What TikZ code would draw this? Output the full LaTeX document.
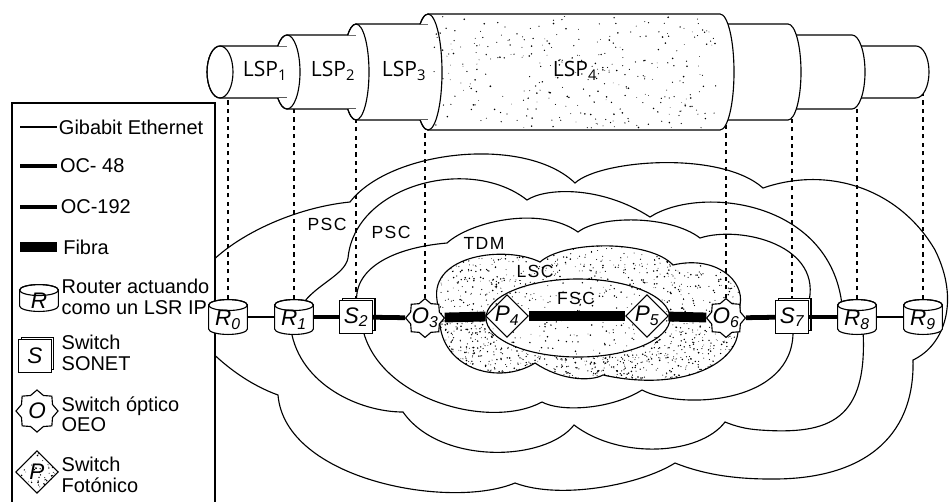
\documentclass[tikz,border=0pt]{standalone}
\usepackage{fontspec}
\setmainfont{Liberation Sans}
\newfontfamily\lspfont{Open Sans}
\newfontfamily\zonafont[LetterSpace=8]{Liberation Sans}
\usetikzlibrary{shapes.geometric}
\usetikzlibrary{shadows}
\usetikzlibrary{backgrounds}
\usetikzlibrary{positioning}

\newcommand{\etq}[2]{\textit{#1}\textsubscript{#2}}
\newcommand{\lsp}[1]{LSP\textsubscript{#1}}
% tubo: x de la cara, x del final, radio, radio x de las elipses, radio del tubo interior
% (el hueco del clip deja delante el tubo interior)
\newcommand{\tubo}[5]{%
  \begin{scope}
    \clip (0,0) -- (960,0) -- (960,-510) -- (0,-510) -- cycle
      (#1-20,-72+#5) -- (#1-20,-72-#5) -- (#1,-72-#5) -- (#1,-72+#5) -- cycle;
    \filldraw[fill=white, line width=.8pt] (#1,-72+#3) -- (#2,-72+#3)
      arc[start angle=90, end angle=-90, x radius=#4, y radius=#3]
      -- (#1,-72-#3)
      arc[start angle=270, end angle=90, x radius=#4, y radius=#3] -- cycle;
    \draw[line width=.8pt] (#1,-72) ellipse[x radius=#4, y radius=#3];
  \end{scope}}
% puntos al azar: cantidad, x, y, ancho, alto
\newcommand{\puntos}[5]{%
  \foreach \i in {1,...,#1}{%
    \pgfmathsetmacro\rad{.25+.4*rnd}
    \fill (#2+#4*rnd,#3-#5*rnd) circle (\rad pt);}}
\newcommand{\nubeLSC}{(437,-300) .. controls (430,-255) and (505,-245) .. (540,-262)
  .. controls (565,-240) and (650,-240) .. (673,-265)
  .. controls (715,-255) and (745,-280) .. (740,-305) -- (738,-332)
  .. controls (735,-365) and (680,-392) .. (603,-375)
  .. controls (590,-382) and (560,-380) .. (535,-363)
  .. controls (500,-385) and (445,-370) .. (440,-325) -- cycle}

\tikzset{
  linea/.style={line width=.8pt},
  gbe/.style={line width=.8pt},
  oc48/.style={line width=2.3pt},
  oc192/.style={line width=3.4pt},
  fibra/.style={line width=7pt},
  nube/.style={line width=.8pt},
  guia/.style={dashed, line width=.8pt},
  etiq/.style={font=\fontsize{16}{16}\selectfont\itshape, inner sep=0pt},
  router/.style={rectangle, minimum width=1cm, minimum height=.9cm, inner sep=0pt,
    path picture={
      \coordinate (ct) at ([yshift=-4.3pt]path picture bounding box.north);
      \coordinate (cb) at ([yshift=4.3pt]path picture bounding box.south);
      \filldraw[fill=white, line width=.8pt] ([xshift=-13.8pt]ct) -- ([xshift=-13.8pt]cb)
        arc[start angle=180, end angle=360, x radius=13.8pt, y radius=3.9pt]
        -- ([xshift=13.8pt]ct)
        arc[start angle=0, end angle=180, x radius=13.8pt, y radius=3.9pt] -- cycle;
      \draw[line width=.8pt] (ct) ellipse[x radius=13.8pt, y radius=3.9pt];
    },
    label={[etiq, yshift=-1.8pt]center:#1}},
  sonet/.style={rectangle, draw, fill=white, line width=.8pt, minimum size=.82cm, inner sep=0pt,
    copy shadow={shadow xshift=1.8pt, shadow yshift=1.8pt, fill=white, draw, line width=.8pt},
    label={[etiq]center:#1}},
  oeo/.style={star, star points=8, star point ratio=1.25, draw, fill=white, line width=.8pt,
    minimum size=.97cm, inner sep=0pt, label={[etiq]center:#1}},
  foton/.style={diamond, draw, fill=white, line width=.8pt, minimum size=1.07cm, inner sep=0pt,
    label={[etiq]center:#1}},
  leyenda/.style={font=\fontsize{14.2}{14.5}\selectfont, align=left, anchor=west, inner sep=1pt},
  zona/.style={font=\zonafont\fontsize{12.5}{13}\selectfont, inner sep=0pt},
  lspt/.style={font=\lspfont\fontsize{15}{15}\selectfont, inner sep=0pt}
}

\begin{document}
\begin{tikzpicture}[x=0.025cm, y=0.025cm]
\useasboundingbox (0,0) rectangle (951,-501);
\pgfmathsetseed{7}
\coordinate (eje) at (0,-72);

% tubos LSP, del interior al exterior
\tubo{220}{916}{26}{13}{0}
\tubo{287}{852}{37}{13}{26}
\tubo{356}{788}{48}{13}{37}
\tubo{428}{720}{58}{14}{48}
\begin{scope}
  \clip (432,-16) rectangle (716,-128);
  \puntos{320}{432}{-16}{284}{112}
\end{scope}
\node[lspt] (lsp1) at (265,-71) {\lsp{1}};
\node[lspt] (lsp2) at (333,-71) {\lsp{2}};
\node[lspt] (lsp3) at (404,-71) {\lsp{3}};
\node[lspt] (lsp4) at (575,-71) {\lsp{4}};

% leyenda
\draw[linea, fill=white] (12,-103) rectangle (215,-510);
\draw[gbe] (20,-127) -- (57,-127) node[leyenda] {Gibabit Ethernet};
\draw[oc48] (20,-166) -- (57,-166) node[leyenda] {OC- 48};
\draw[oc192] (20,-207) -- (57,-207) node[leyenda] {OC-192};
\draw[fibra] (20,-247) -- (57,-247) node[leyenda] {Fibra};
\node[router=\textit{R}, minimum height=.7cm] (leyR) at (39,-298) {};
\node[leyenda] (txtR) at (60,-297) {Router actuando\\como un LSR IP};
\node[sonet=\textit{S}] (leyS) at (35,-356) {};
\node[leyenda] (txtS) at (60,-353) {Switch\\SONET};
\node[oeo=\textit{O}, minimum size=1.05cm] (leyO) at (37,-411) {};
\node[leyenda] (txtO) at (60,-414) {Switch óptico\\OEO};
\node[foton=\textit{P}] (leyP) at (37,-472) {};
\begin{scope}
  \clip (leyP.north) -- (leyP.east) -- (leyP.south) -- (leyP.west) -- cycle;
  \puntos{90}{15}{-450}{44}{44}
\end{scope}
\node[leyenda] (txtP) at (60,-475) {Switch\\Fotónico};

% nodos de la red
\node[router=\etq{R}{0}] (R0) at (228,-317) {};
\node[router=\etq{R}{1}] (R1) at (294,-317) {};
\node[sonet=\etq{S}{2}] (S2) at (356,-317) {};
\node[oeo=\etq{O}{3}] (O3) at (425,-318) {};
\node[foton=\etq{P}{4}] (P4) at (507,-316) {};
\node[foton=\etq{P}{5}] (P5) at (647,-316) {};
\node[oeo=\etq{O}{6}] (O6) at (726,-318) {};
\node[sonet=\etq{S}{7}] (S7) at (792,-317) {};
\node[router=\etq{R}{8}] (R8) at (857,-317) {};
\node[router=\etq{R}{9}] (R9) at (923,-317) {};

\draw[gbe] (R0) -- (R1);
\draw[oc48] (R1) -- (S2);
\draw[oc192] (S2) -- (O3);
\draw[fibra] (O3) -- (P4);
\draw[fibra] (P4) -- (P5);
\draw[fibra] (P5) -- (O6);
\draw[oc192] (O6) -- (S7);
\draw[oc48] (S7) -- (R8);
\draw[gbe] (R8) -- (R9);

\node[zona] (psc1) at (327,-224) {PSC};
\node[zona] (psc2) at (391,-232) {PSC};
\node[zona] (tdm) at (484,-243) {TDM};
\node[zona] (lsc) at (535,-271) {LSC};
\node[zona] (fsc) at (576,-298) {FSC};

% dominios
\begin{scope}[on background layer]
  \clip (0,0) rectangle (951,-501);
  \draw[nube] (200,-275) .. controls (225,-240) and (290,-208) .. (350,-202)
    .. controls (390,-150) and (525,-135) .. (575,-183)
    .. controls (600,-160) and (720,-150) .. (763,-188)
    .. controls (830,-165) and (900,-190) .. (935,-250)
    .. controls (960,-300) and (945,-345) .. (913,-360)
    .. controls (915,-440) and (860,-480) .. (770,-479)
    .. controls (730,-479) and (700,-473) .. (675,-463)
    .. controls (640,-485) and (560,-500) .. (515,-483)
    .. controls (450,-510) and (285,-480) .. (278,-395)
    .. controls (250,-385) and (222,-365) .. (200,-340) -- cycle;
  \draw[nube] (302,-305) .. controls (315,-285) and (345,-275) .. (348,-258)
    .. controls (355,-185) and (470,-155) .. (527,-200)
    .. controls (545,-188) and (600,-185) .. (650,-217)
    .. controls (700,-185) and (830,-200) .. (842,-305);
  \draw[nube] (863,-330) .. controls (868,-420) and (830,-435) .. (760,-430)
    .. controls (745,-429) and (735,-426) .. (725,-422)
    .. controls (700,-455) and (620,-460) .. (574,-425)
    .. controls (545,-462) and (440,-465) .. (403,-412)
    .. controls (360,-412) and (300,-385) .. (291,-330);
  \draw[nube] (357,-305) .. controls (352,-270) and (390,-248) .. (447,-243)
    .. controls (470,-222) and (540,-205) .. (578,-232)
    .. controls (600,-215) and (670,-215) .. (700,-238)
    .. controls (740,-225) and (825,-245) .. (808,-305);
  \draw[nube] (793,-330) .. controls (795,-405) and (680,-410) .. (642,-390)
    .. controls (610,-410) and (560,-412) .. (542,-402)
    .. controls (490,-430) and (380,-400) .. (363,-330);
  \begin{scope}
    \clip \nubeLSC;
    \puntos{1600}{425}{-240}{325}{150}
    \puntos{550}{440}{-318}{300}{65}
    \fill[white] (578,-318) ellipse[x radius=92, y radius=39];
    \begin{scope}
      \clip (578,-318) ellipse[x radius=92, y radius=39];
      \puntos{200}{486}{-279}{184}{78}
    \end{scope}
  \end{scope}
  \draw[nube] \nubeLSC;
  \draw[nube] (578,-318) ellipse[x radius=92, y radius=39];
  \foreach \n in {R0,R1,S2,O3,O6,S7,R8,R9}
    \draw[guia] (\n.north) -- (\n.north |- eje);
\end{scope}
\end{tikzpicture}
\end{document}
